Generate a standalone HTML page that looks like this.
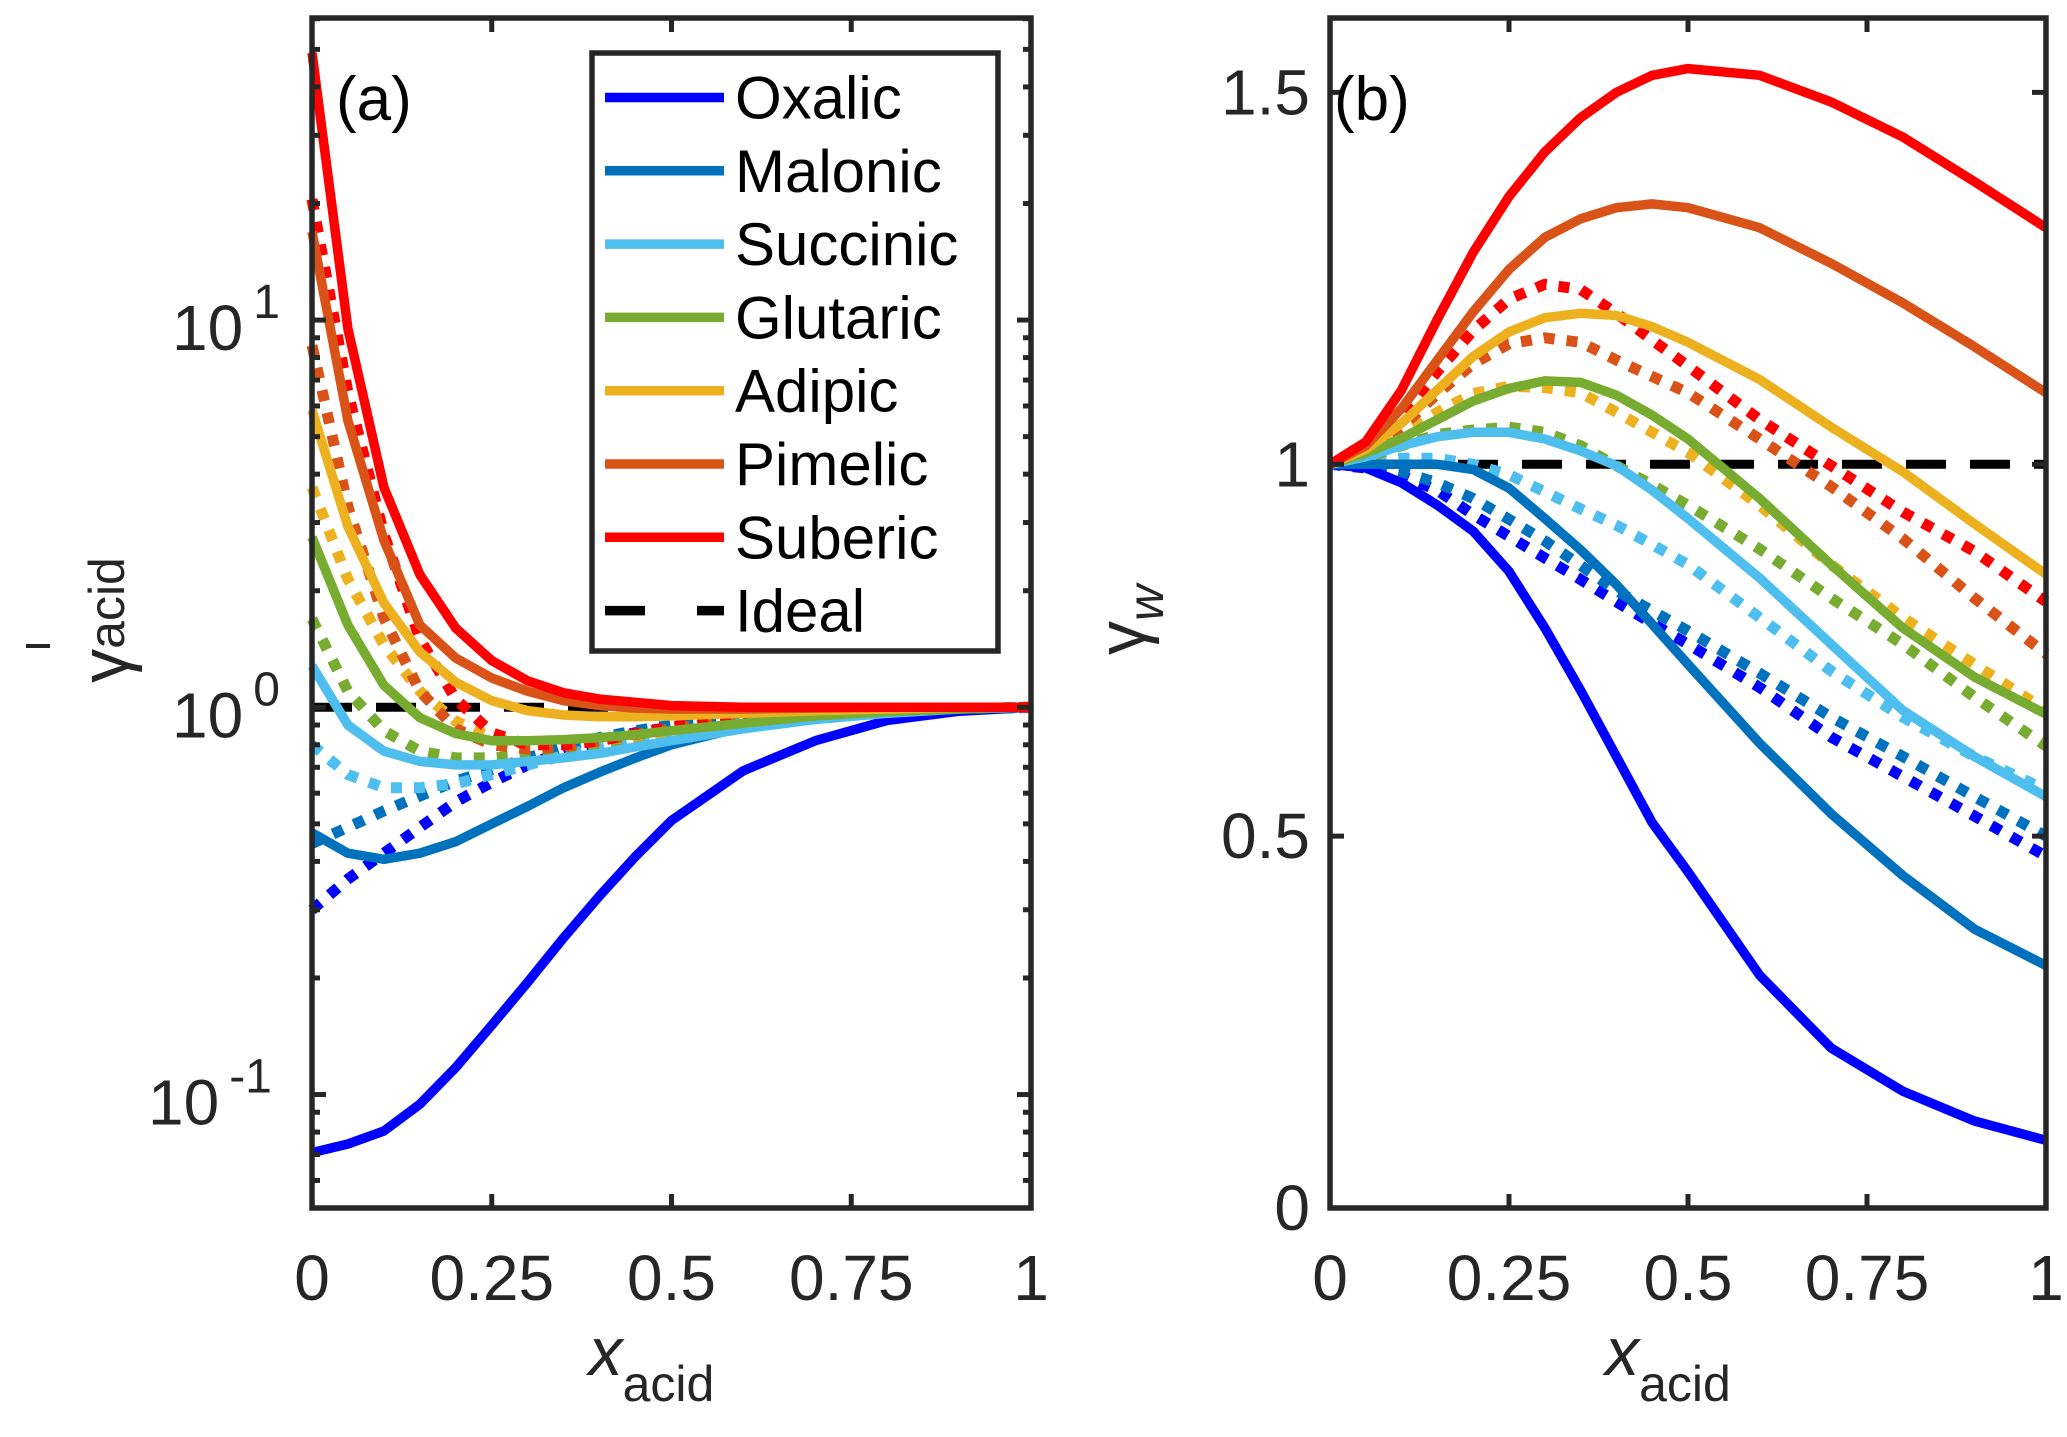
<!DOCTYPE html>
<html><head><meta charset="utf-8">
<style>
html,body{margin:0;padding:0;background:#fff;}
svg{display:block;font-family:"Liberation Sans",Arial,sans-serif;}
</style></head>
<body>
<svg id="fig" width="2067" height="1437" viewBox="0 0 2067 1437" xmlns="http://www.w3.org/2000/svg">
<g id="panelA"></g>
<g id="panelB"></g>
</svg>
<script>
const xGrid = [0,0.05,0.1,0.15,0.2,0.25,0.3,0.35,0.4,0.45,0.5,0.6,0.7,0.8,0.9,1];
const acidNames = ["Oxalic","Malonic","Succinic","Glutaric","Adipic","Pimelic","Suberic"];
const acidColors = ["#0000FF","#0072BD","#4DBEEE","#77AC30","#EDB120","#D95319","#FF0000"];
// Panel (a): gamma_acid, solid lines
const aSolidOxalic   = [0.0708,0.0745,0.0805,0.0944,0.1175,0.151,0.195,0.254,0.326,0.412,0.51,0.686,0.82,0.925,0.977,1];
const aSolidMalonic  = [0.474,0.42,0.405,0.42,0.45,0.50,0.555,0.62,0.68,0.74,0.80,0.89,0.94,0.97,0.99,1];
const aSolidSuccinic = [1.28,0.90,0.77,0.725,0.71,0.71,0.725,0.74,0.76,0.79,0.82,0.88,0.93,0.965,0.99,1];
const aSolidGlutaric = [2.75,1.63,1.14,0.94,0.855,0.82,0.82,0.825,0.835,0.85,0.87,0.91,0.95,0.975,0.99,1];
const aSolidAdipic   = [5.85,2.93,1.86,1.39,1.16,1.04,0.98,0.955,0.945,0.945,0.95,0.965,0.98,0.99,1,1];
const aSolidPimelic  = [16.9,5.5,2.7,1.63,1.34,1.19,1.1,1.04,1.01,0.995,0.99,0.99,0.995,1,1,1];
const aSolidSuberic  = [49,9.5,3.7,2.2,1.6,1.32,1.17,1.09,1.05,1.03,1.01,1.0,1.0,1,1,1];
// Panel (a): dotted lines
const aDotOxalic   = [0.30,0.36,0.42,0.49,0.57,0.64,0.71,0.77,0.82,0.86,0.89,0.94,0.965,0.98,0.99,1];
const aDotMalonic  = [0.445,0.49,0.54,0.59,0.645,0.69,0.74,0.79,0.835,0.87,0.9,0.94,0.965,0.98,0.99,1];
const aDotSuccinic = [0.80,0.67,0.62,0.62,0.635,0.67,0.71,0.75,0.79,0.83,0.86,0.91,0.95,0.975,0.99,1];
const aDotGlutaric = [1.69,1.1,0.87,0.77,0.74,0.74,0.75,0.77,0.79,0.82,0.85,0.9,0.94,0.97,0.99,1];
const aDotAdipic   = [3.7,2.14,1.45,1.1,0.92,0.835,0.8,0.8,0.82,0.845,0.87,0.92,0.955,0.98,0.99,1];
const aDotPimelic  = [8.6,3.3,1.7,1.1,0.88,0.80,0.78,0.79,0.82,0.85,0.88,0.93,0.96,0.98,0.99,1];
const aDotSuberic  = [20.5,6.5,2.8,1.5,1.05,0.86,0.8,0.8,0.82,0.855,0.89,0.93,0.96,0.98,0.99,1];
// Panel (b): gamma_w, solid lines
const bSolidOxalic   = [1,0.995,0.975,0.945,0.91,0.856,0.78,0.696,0.607,0.518,0.452,0.313,0.215,0.157,0.117,0.091];
const bSolidMalonic  = [1,1.0,1.0,1.0,0.993,0.968,0.927,0.885,0.838,0.785,0.731,0.625,0.53,0.447,0.375,0.326];
const bSolidSuccinic = [1,1.01,1.025,1.037,1.043,1.043,1.034,1.018,0.998,0.965,0.927,0.847,0.758,0.669,0.607,0.553];
const bSolidGlutaric = [1,1.015,1.035,1.06,1.085,1.102,1.112,1.11,1.093,1.066,1.034,0.954,0.865,0.78,0.714,0.664];
const bSolidAdipic   = [1,1.02,1.055,1.1,1.145,1.178,1.197,1.203,1.2,1.185,1.164,1.114,1.05,0.99,0.92,0.852];
const bSolidPimelic  = [1,1.025,1.075,1.14,1.205,1.262,1.305,1.33,1.345,1.35,1.345,1.318,1.27,1.217,1.158,1.096];
const bSolidSuberic  = [1,1.03,1.1,1.195,1.285,1.36,1.42,1.466,1.5,1.523,1.532,1.523,1.487,1.44,1.38,1.318];
// Panel (b): dotted lines
const bDotOxalic   = [1,0.995,0.985,0.965,0.932,0.903,0.874,0.845,0.815,0.786,0.758,0.70,0.633,0.58,0.527,0.473];
const bDotMalonic  = [1,0.998,0.99,0.975,0.954,0.926,0.897,0.864,0.83,0.803,0.776,0.719,0.66,0.607,0.553,0.5];
const bDotSuccinic = [1,1.0,1.008,1.008,1.0,0.986,0.963,0.94,0.918,0.892,0.865,0.794,0.722,0.66,0.607,0.562];
const bDotGlutaric = [1,1.008,1.025,1.04,1.046,1.05,1.043,1.025,0.998,0.972,0.945,0.886,0.82,0.758,0.687,0.621];
const bDotAdipic   = [1,1.015,1.04,1.07,1.095,1.105,1.103,1.096,1.07,1.043,1.016,0.945,0.865,0.794,0.731,0.669];
const bDotPimelic  = [1,1.018,1.05,1.095,1.135,1.162,1.17,1.164,1.14,1.118,1.096,1.034,0.97,0.90,0.82,0.745];
const bDotSuberic  = [1,1.022,1.065,1.125,1.18,1.222,1.242,1.235,1.203,1.167,1.132,1.06,0.998,0.936,0.883,0.815];
const xTickVals = [0,0.25,0.5,0.75,1];
const xTickLabels = ["0","0.25","0.5","0.75","1"];
const aYTickExps = [-1,0,1];
const bYTickVals = [0,0.5,1,1.5];
const bYTickLabels = ["0","0.5","1","1.5"];
const idealValue = 1;

const NS="http://www.w3.org/2000/svg";
const AXC="#262626";
function mk(parent,tag,attrs){const e=document.createElementNS(NS,tag);for(const k in attrs)e.setAttribute(k,attrs[k]);parent.appendChild(e);return e;}

const A={left:312,right:1031,top:18,bottom:1208,ymin:-1.293,ymax:1.78};
const B={left:1330,right:2046,top:18,bottom:1208,ymin:0,ymax:1.6};
function sx(P,x){return P.left+x*(P.right-P.left);}
function syA(v){const l=Math.log10(v);return A.bottom-(l-A.ymin)/(A.ymax-A.ymin)*(A.bottom-A.top);}
function syB(v){return B.bottom-(v-B.ymin)/(B.ymax-B.ymin)*(B.bottom-B.top);}

function drawSeries(g,P,sy,vals,color,dotted,name){
  const d=vals.map((v,i)=>(i?"L":"M")+sx(P,xGrid[i]).toFixed(1)+","+sy(v).toFixed(1)).join(" ");
  const p=mk(g,"path",{d:d,fill:"none",stroke:color,"stroke-width":dotted?11:9.5,"stroke-linejoin":"round"});
  if(dotted){p.setAttribute("stroke-dasharray","11 12");}
  
  
}

function drawIdeal(g,P,sy){
  const l=mk(g,"line",{x1:P.left,x2:P.right,y1:sy(idealValue),y2:sy(idealValue),stroke:"#000","stroke-width":9,"stroke-dasharray":"40 24"});
  
  
}

function drawFrame(g,P){
  const r=mk(g,"rect",{x:P.left,y:P.top,width:P.right-P.left,height:P.bottom-P.top,fill:"none",stroke:AXC,"stroke-width":5.5});
  
  
  xTickVals.forEach((v,i)=>{
    const x=sx(P,v);
    mk(g,"line",{x1:x,x2:x,y1:P.bottom,y2:P.bottom-14,stroke:AXC,"stroke-width":5});
    mk(g,"line",{x1:x,x2:x,y1:P.top,y2:P.top+14,stroke:AXC,"stroke-width":5});
    const t=mk(g,"text",{x:x,y:P.bottom+92,"text-anchor":"middle","font-size":64,fill:AXC});
    t.textContent=xTickLabels[i];
    
    
  });
  const xl=mk(g,"text",{x:(P.left+P.right)/2-20,y:1375,"text-anchor":"middle","font-size":68,fill:AXC});
  xl.innerHTML='<tspan font-style="italic">x</tspan><tspan font-size="50" dy="26">acid</tspan>';
  
  
}

// Panel A
const gA=document.getElementById("panelA");
drawIdeal(gA,A,syA);
const aSolids=[aSolidOxalic,aSolidMalonic,aSolidSuccinic,aSolidGlutaric,aSolidAdipic,aSolidPimelic,aSolidSuberic];
const aDots=[aDotOxalic,aDotMalonic,aDotSuccinic,aDotGlutaric,aDotAdipic,aDotPimelic,aDotSuberic];
aDots.forEach((s,i)=>drawSeries(gA,A,syA,s,acidColors[i],true,"a-dotted-"+acidNames[i].toLowerCase()));
aSolids.forEach((s,i)=>drawSeries(gA,A,syA,s,acidColors[i],false,"a-solid-"+acidNames[i].toLowerCase()));
drawFrame(gA,A);
for(let e=-2;e<=1;e++){
  for(let m=1;m<=9;m++){
    const v=m*Math.pow(10,e);const l=Math.log10(v);
    if(l<A.ymin||l>A.ymax)continue;
    const y=syA(v);const len=m===1?14:8;
    mk(gA,"line",{x1:A.left,x2:A.left+len,y1:y,y2:y,stroke:AXC,"stroke-width":5});
    mk(gA,"line",{x1:A.right,x2:A.right-len,y1:y,y2:y,stroke:AXC,"stroke-width":5});
  }
}
aYTickExps.forEach(ex=>{
  const y=syA(Math.pow(10,ex));
  const t=mk(gA,"text",{x:ex<0?148:172,y:y+30,"font-size":64,fill:AXC});
  t.innerHTML='10<tspan font-size="48" dy="-32" dx="10">'+ex+'</tspan>';
  
  
});
const yA=mk(gA,"text",{transform:"translate(128,620) rotate(-90)","text-anchor":"middle","font-size":68,fill:AXC});
yA.innerHTML='γ<tspan font-size="50" dy="-4">acid</tspan>';


const yAsup=mk(gA,"line",{x1:26,x2:50,y1:646,y2:646,stroke:AXC,"stroke-width":4});


const la=mk(gA,"text",{x:336,y:120,"font-size":62,fill:"#000"});la.textContent="(a)";



// Legend
const leg=mk(gA,"g",{});


mk(leg,"rect",{x:592,y:53,width:406,height:598,fill:"#fff",stroke:AXC,"stroke-width":5.5});
const legNames=acidNames.concat(["Ideal"]);
legNames.forEach((n,i)=>{
  const y=97.5+i*73.3;
  const en=mk(leg,"g",{});
  
  
  if(i<7){mk(en,"line",{x1:605,x2:724,y1:y,y2:y,stroke:acidColors[i],"stroke-width":9.5});}
  else{mk(en,"line",{x1:605,x2:724,y1:y,y2:y,stroke:"#000","stroke-width":9.5,"stroke-dasharray":"40 52"});}
  const t=mk(en,"text",{x:735,y:y+21,"font-size":60,fill:"#000"});t.textContent=n;
});

// Panel B
const gB=document.getElementById("panelB");
drawIdeal(gB,B,syB);
const bSolids=[bSolidOxalic,bSolidMalonic,bSolidSuccinic,bSolidGlutaric,bSolidAdipic,bSolidPimelic,bSolidSuberic];
const bDots=[bDotOxalic,bDotMalonic,bDotSuccinic,bDotGlutaric,bDotAdipic,bDotPimelic,bDotSuberic];
bDots.forEach((s,i)=>drawSeries(gB,B,syB,s,acidColors[i],true,"b-dotted-"+acidNames[i].toLowerCase()));
bSolids.forEach((s,i)=>drawSeries(gB,B,syB,s,acidColors[i],false,"b-solid-"+acidNames[i].toLowerCase()));
drawFrame(gB,B);
bYTickVals.forEach((v,i)=>{
  const y=syB(v);
  mk(gB,"line",{x1:B.left,x2:B.left+14,y1:y,y2:y,stroke:AXC,"stroke-width":5});
  mk(gB,"line",{x1:B.right,x2:B.right-14,y1:y,y2:y,stroke:AXC,"stroke-width":5});
  const t=mk(gB,"text",{x:B.left-20,y:y+22,"text-anchor":"end","font-size":64,fill:AXC});
  t.textContent=bYTickLabels[i];
  
  
});
const yB=mk(gB,"text",{transform:"translate(1145,620) rotate(-90)","text-anchor":"middle","font-size":68,fill:AXC});
yB.innerHTML='γ<tspan font-size="50" dy="18" font-style="italic">w</tspan>';


const lb=mk(gB,"text",{x:1334,y:120,"font-size":62,fill:"#000"});lb.textContent="(b)";


</script>
</body></html>
